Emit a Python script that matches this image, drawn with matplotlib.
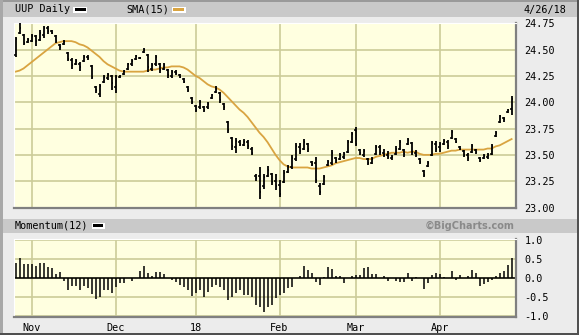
import numpy as np
import pandas as pd
import matplotlib
matplotlib.use('Agg')
import matplotlib.pyplot as plt
from matplotlib.patches import Rectangle

# trading days shown (Oct 26 2017 .. Apr 26 2018)
holidays = ['2017-11-23', '2017-12-25', '2018-01-01', '2018-01-15', '2018-02-19', '2018-03-30']
dates = pd.bdate_range('2017-10-26', '2018-04-26', freq='C', holidays=holidays)
month_labels = ['Nov', 'Dec', '18', 'Feb', 'Mar', 'Apr']

high = [24.62, 24.76, 24.65, 24.61, 24.65, 24.64, 24.69, 24.72, 24.72, 24.69,
        24.64, 24.55, 24.59, 24.48, 24.42, 24.41, 24.38, 24.45, 24.45, 24.35,
        24.15, 24.17, 24.26, 24.28, 24.26, 24.26, 24.26, 24.31, 24.37, 24.41,
        24.45, 24.43, 24.51, 24.46, 24.37, 24.45, 24.37, 24.37, 24.32, 24.31,
        24.31, 24.27, 24.23, 24.15, 24.05, 23.97, 24.02, 23.96, 24.00, 24.08,
        24.15, 24.10, 23.99, 23.82, 23.67, 23.66, 23.64, 23.65, 23.64, 23.57,
        23.32, 23.38, 23.32, 23.39, 23.33, 23.32, 23.26, 23.36, 23.40, 23.50,
        23.61, 23.61, 23.65, 23.61, 23.44, 23.48, 23.23, 23.31, 23.45, 23.55,
        23.48, 23.52, 23.53, 23.64, 23.72, 23.76, 23.56, 23.56, 23.47, 23.48,
        23.59, 23.59, 23.56, 23.54, 23.50, 23.58, 23.64, 23.56, 23.66, 23.62,
        23.55, 23.47, 23.36, 23.44, 23.63, 23.63, 23.62, 23.65, 23.64, 23.74,
        23.66, 23.58, 23.55, 23.52, 23.60, 23.56, 23.48, 23.51, 23.52, 23.60,
        23.73, 23.88, 23.86, 23.94, 24.06]
low = [24.43, 24.65, 24.54, 24.56, 24.57, 24.53, 24.58, 24.61, 24.65, 24.65,
       24.56, 24.50, 24.54, 24.39, 24.32, 24.35, 24.30, 24.38, 24.40, 24.22,
       24.09, 24.05, 24.18, 24.21, 24.12, 24.09, 24.23, 24.26, 24.31, 24.34,
       24.40, 24.41, 24.47, 24.29, 24.30, 24.34, 24.28, 24.31, 24.23, 24.23,
       24.26, 24.23, 24.18, 24.10, 23.98, 23.91, 23.94, 23.91, 23.94, 24.03,
       24.09, 23.99, 23.93, 23.71, 23.55, 23.52, 23.58, 23.58, 23.56, 23.50,
       23.25, 23.08, 23.18, 23.29, 23.21, 23.17, 23.10, 23.23, 23.33, 23.37,
       23.44, 23.51, 23.55, 23.53, 23.39, 23.23, 23.12, 23.21, 23.39, 23.40,
       23.42, 23.45, 23.46, 23.52, 23.61, 23.58, 23.50, 23.48, 23.40, 23.41,
       23.50, 23.50, 23.48, 23.46, 23.45, 23.50, 23.55, 23.48, 23.59, 23.50,
       23.48, 23.41, 23.29, 23.38, 23.49, 23.53, 23.53, 23.59, 23.56, 23.65,
       23.61, 23.55, 23.48, 23.44, 23.52, 23.51, 23.43, 23.46, 23.46, 23.50,
       23.67, 23.80, 23.81, 23.90, 23.88]
open_ = [24.45, 24.66, 24.64, 24.57, 24.58, 24.63, 24.59, 24.64, 24.70, 24.68,
         24.63, 24.54, 24.55, 24.47, 24.40, 24.36, 24.36, 24.39, 24.43, 24.34,
         24.14, 24.08, 24.19, 24.23, 24.25, 24.14, 24.24, 24.27, 24.32, 24.36,
         24.41, 24.42, 24.48, 24.45, 24.32, 24.36, 24.36, 24.32, 24.31, 24.25,
         24.29, 24.26, 24.22, 24.14, 24.04, 23.96, 23.95, 23.95, 23.95, 24.04,
         24.10, 24.09, 23.98, 23.81, 23.66, 23.57, 23.62, 23.59, 23.62, 23.56,
         23.30, 23.30, 23.20, 23.30, 23.32, 23.25, 23.21, 23.24, 23.34, 23.38,
         23.46, 23.57, 23.56, 23.60, 23.43, 23.42, 23.20, 23.22, 23.40, 23.42,
         23.47, 23.46, 23.48, 23.53, 23.62, 23.74, 23.55, 23.50, 23.46, 23.42,
         23.51, 23.57, 23.52, 23.50, 23.47, 23.51, 23.56, 23.55, 23.60, 23.61,
         23.52, 23.46, 23.35, 23.39, 23.50, 23.60, 23.57, 23.60, 23.62, 23.66,
         23.65, 23.57, 23.54, 23.50, 23.53, 23.55, 23.47, 23.47, 23.48, 23.51,
         23.68, 23.81, 23.85, 23.91, 23.94]
close = [24.60, 24.70, 24.56, 24.59, 24.63, 24.58, 24.66, 24.70, 24.68, 24.66,
         24.58, 24.52, 24.57, 24.41, 24.35, 24.39, 24.33, 24.43, 24.42, 24.24,
         24.12, 24.15, 24.24, 24.26, 24.18, 24.24, 24.25, 24.30, 24.36, 24.39,
         24.44, 24.42, 24.50, 24.33, 24.35, 24.43, 24.31, 24.35, 24.26, 24.29,
         24.28, 24.24, 24.19, 24.12, 24.00, 23.93, 24.00, 23.93, 23.98, 24.07,
         24.13, 24.02, 23.95, 23.74, 23.58, 23.63, 23.60, 23.62, 23.58, 23.52,
         23.28, 23.15, 23.29, 23.36, 23.24, 23.20, 23.13, 23.33, 23.38, 23.47,
         23.58, 23.54, 23.62, 23.56, 23.41, 23.26, 23.15, 23.29, 23.43, 23.52,
         23.45, 23.50, 23.51, 23.62, 23.70, 23.60, 23.52, 23.54, 23.42, 23.46,
         23.57, 23.53, 23.50, 23.48, 23.48, 23.56, 23.62, 23.51, 23.64, 23.53,
         23.50, 23.43, 23.31, 23.42, 23.61, 23.56, 23.60, 23.63, 23.58, 23.72,
         23.62, 23.56, 23.50, 23.47, 23.58, 23.53, 23.45, 23.49, 23.50, 23.58,
         23.71, 23.87, 23.84, 23.93, 24.03]
sma15 = [24.29, 24.30, 24.32, 24.35, 24.38, 24.41, 24.44, 24.47, 24.50, 24.53,
         24.56, 24.57, 24.58, 24.58, 24.58, 24.57, 24.55, 24.54, 24.52, 24.49,
         24.46, 24.43, 24.39, 24.36, 24.34, 24.32, 24.30, 24.29, 24.29, 24.29,
         24.29, 24.29, 24.29, 24.30, 24.31, 24.31, 24.32, 24.33, 24.33, 24.34,
         24.34, 24.34, 24.33, 24.31, 24.28, 24.25, 24.23, 24.20, 24.17, 24.15,
         24.14, 24.12, 24.09, 24.05, 24.01, 23.97, 23.93, 23.90, 23.86, 23.81,
         23.76, 23.71, 23.67, 23.62, 23.56, 23.50, 23.45, 23.41, 23.39, 23.38,
         23.38, 23.38, 23.38, 23.38, 23.37, 23.37, 23.37, 23.38, 23.39, 23.40,
         23.42, 23.43, 23.44, 23.45, 23.46, 23.47, 23.47, 23.46, 23.46, 23.46,
         23.48, 23.49, 23.50, 23.51, 23.52, 23.52, 23.52, 23.53, 23.52, 23.53,
         23.53, 23.51, 23.50, 23.50, 23.50, 23.51, 23.51, 23.52, 23.53, 23.54,
         23.54, 23.55, 23.55, 23.55, 23.55, 23.55, 23.55, 23.55, 23.56, 23.56,
         23.58, 23.59, 23.61, 23.63, 23.65]
momentum = [0.41, 0.54, 0.38, 0.38, 0.38, 0.32, 0.41, 0.41, 0.31, 0.27,
            0.11, 0.17, -0.06, -0.31, -0.20, -0.20, -0.31, -0.20, -0.26, -0.41,
            -0.55, -0.50, -0.32, -0.32, -0.38, -0.22, -0.13, -0.13, 0.00, -0.06,
            0.00, 0.18, 0.32, 0.15, 0.07, 0.17, 0.17, 0.11, 0.00, -0.04,
            -0.09, -0.17, -0.24, -0.32, -0.46, -0.38, -0.31, -0.50, -0.35, -0.24,
            -0.18, -0.22, -0.32, -0.57, -0.50, -0.38, -0.32, -0.44, -0.44, -0.48,
            -0.70, -0.76, -0.88, -0.75, -0.70, -0.53, -0.44, -0.38, -0.26, -0.24,
            0.00, 0.06, 0.32, 0.22, 0.15, -0.09, -0.18, 0.04, 0.29, 0.24,
            0.06, 0.06, -0.13, 0.00, 0.06, 0.09, 0.09, 0.26, 0.29, 0.11,
            0.11, 0.00, 0.06, -0.06, 0.00, -0.06, -0.09, -0.09, 0.15, -0.06,
            0.04, 0.00, -0.27, -0.13, 0.09, 0.15, 0.11, 0.04, 0.00, 0.20,
            -0.04, 0.09, 0.00, 0.06, 0.22, 0.13, -0.20, -0.15, -0.09, -0.04,
            0.06, 0.15, 0.20, 0.35, 0.53]
price_ticks = [24.75, 24.50, 24.25, 24.00, 23.75, 23.50, 23.25, 23.00]
mom_ticks = [1.0, 0.5, 0.0, -0.5, -1.0]
mom_labels = ['1.0', '0.5', '0.0', '-0.5', '-1.0']

W, H = 579, 335
BG = '#ececec'
BAND = '#c9c9c9'
PLOT_BG = '#ffffe0'
GRID = '#cccc99'
SMA_C = '#d9a441'
FONT = 'DejaVu Sans Mono'

fig = plt.figure(figsize=(W / 100, H / 100), dpi=100)
fig.patch.set_facecolor(BG)


def px_rect(l, t, r, b, color):
    fig.add_artist(Rectangle((l / W, 1 - b / H), (r - l) / W, (b - t) / H,
                             transform=fig.transFigure, facecolor=color,
                             edgecolor='none', zorder=0))


def px_text(x, y, s, **kw):
    fig.text(x / W, 1 - y / H, s, va='center', **kw)


def px_axes(l, t, r, b):
    return fig.add_axes([l / W, 1 - b / H, (r - l) / W, (b - t) / H])


# frame and header bands
px_rect(0, 0, W, 1.5, '#9a9a9a')
px_rect(0, 1.5, W, 17, BAND)
px_rect(0, 0, 2.5, H, '#a8a8a8')
px_rect(W - 2, 0, W, H, '#505050')
px_rect(0, H - 2, W, H, '#505050')
px_rect(2.5, 218.5, W - 2, 232.5, BAND)

px_text(15, 9.5, 'UUP Daily', family=FONT, fontsize=7.3, color='black')
px_rect(73, 6.5, 87, 12.5, 'white')
px_rect(74.5, 8, 85.5, 11, 'black')
px_text(126, 9.5, 'SMA(15)', family=FONT, fontsize=7.3, color='black')
px_rect(172, 6.5, 186, 12.5, 'white')
px_rect(173.5, 8, 184.5, 11, SMA_C)
px_text(523, 9.5, '4/26/18', family=FONT, fontsize=7.3, color='black')

px_text(15, 225.5, 'Momentum(12)', family=FONT, fontsize=7.3, color='black')
px_rect(91.5, 222.5, 104.5, 228.5, 'white')
px_rect(93, 224, 103, 227, 'black')
px_text(515, 225.5, '\u00a9BigCharts.com', family='DejaVu Sans', fontsize=7,
        fontweight='bold', color='#8a8a8a', ha='right')

x = np.arange(len(dates))
s = pd.Series(x, index=dates)
month_pos = s.groupby([dates.year, dates.month]).first().values[1:]


def style(ax):
    ax.set_facecolor(PLOT_BG)
    ax.set_xlim(-0.3, 125.1)
    ax.set_xticks(month_pos)
    ax.grid(True, color=GRID, lw=1.2)
    ax.set_axisbelow(True)
    ax.yaxis.tick_right()
    ax.tick_params(length=0, labelsize=7.3, pad=6)
    for lab in ax.get_yticklabels():
        lab.set_family(FONT)
    ax.spines['bottom'].set_color('#808080')
    ax.spines['right'].set_color('#808080')
    ax.spines['bottom'].set_linewidth(1.6)
    ax.spines['right'].set_linewidth(1.6)
    ax.spines['top'].set_color('white')
    ax.spines['left'].set_color('white')


# price panel
ax1 = px_axes(14.3, 22.7, 516, 207.5)
ax1.set_ylim(23.0, 24.755)
ax1.set_yticks(price_ticks)
ax1.set_yticklabels(['%.2f' % v for v in price_ticks])
style(ax1)
ax1.set_xticklabels([])
ax1.plot(x, sma15, color=SMA_C, lw=1.3, zorder=2)
ax1.vlines(x, low, high, color='black', lw=1.3, zorder=3)
ax1.hlines(open_, x - 0.45, x, color='black', lw=1.1, zorder=3)
ax1.hlines(close, x, x + 0.45, color='black', lw=1.1, zorder=3)
for lab in ax1.get_yticklabels():
    lab.set_family(FONT)

# momentum panel
ax2 = px_axes(14.3, 239.3, 516, 317.3)
ax2.set_ylim(-1.027, 1.027)
ax2.set_yticks(mom_ticks)
ax2.set_yticklabels(mom_labels)
style(ax2)
ax2.set_xticklabels(month_labels)
for lab in ax2.get_xticklabels() + ax2.get_yticklabels():
    lab.set_family(FONT)
ax2.tick_params(axis='x', pad=4)
ax2.axhline(0, color='black', lw=1.1, zorder=2)
ax2.vlines(x, 0, momentum, color='black', lw=1.1, zorder=3)

fig.savefig('out.png', dpi=100, facecolor=BG)
